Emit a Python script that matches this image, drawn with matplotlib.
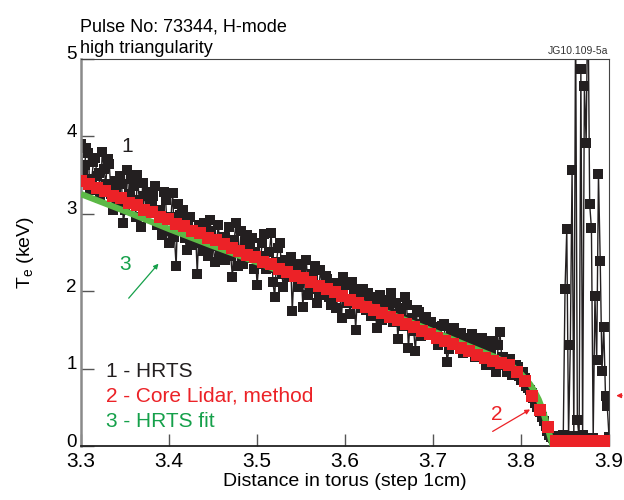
import numpy as np
import matplotlib
matplotlib.use("Agg")
import matplotlib.pyplot as plt
import matplotlib.transforms as mtransforms

plt.rcParams['font.family'] = ['Liberation Sans', 'DejaVu Sans']
plt.rcParams['mathtext.fontset'] = 'custom'
plt.rcParams['mathtext.rm'] = 'Liberation Sans'

# HRTS points, core part: two interleaved 4 mm grids, and edge part (2 mm grid)
hrts_core_x = np.linspace(3.300, 3.836, 135)
hrts_core_te = [
    3.90, 3.62, 3.78, 3.45, 3.72, 3.52, 3.80, 3.38, 3.64, 3.05,
    3.30, 3.48, 2.88, 3.56, 3.15, 3.36, 3.50, 2.82, 3.22, 3.28,
    3.10, 3.35, 2.92, 2.72, 3.18, 2.62, 3.26, 2.32, 2.98, 3.05,
    2.53, 2.95, 2.70, 2.22, 2.62, 2.88, 2.45, 2.78, 2.38, 2.85,
    2.58, 2.40, 2.82, 2.18, 2.88, 2.50, 2.35, 2.72, 2.55, 2.28,
    2.08, 2.45, 2.74, 2.30, 2.75, 1.92, 2.55, 2.22, 2.40, 2.18,
    1.74, 2.35, 2.10, 1.80, 2.40, 2.02, 2.18, 1.84, 2.27, 1.95,
    2.15, 1.82, 2.05, 1.95, 1.65, 2.08, 1.88, 2.12, 1.50, 1.96,
    2.02, 1.75, 1.92, 1.85, 1.52, 1.95, 1.80, 1.88, 1.97, 1.70,
    1.38, 1.72, 1.92, 1.26, 1.65, 1.22, 1.73, 1.58, 1.66, 1.50,
    1.54, 1.45, 1.35, 1.58, 1.08, 1.42, 1.52, 1.30, 1.46, 1.37,
    1.32, 1.45, 1.15, 1.28, 1.40, 1.05, 1.22, 1.35, 0.95, 1.47,
    1.15, 0.95, 1.12, 1.00, 1.02, 0.85, 0.88, 0.75, 0.68, 0.55,
    0.48, 0.38, 0.26, 0.14, 0.10,
]
hrts_core2_x = np.linspace(3.302, 3.834, 134)
hrts_core2_te = [
    3.55, 3.85, 3.30, 3.66, 3.48, 3.20, 3.58, 3.70, 3.25, 3.42,
    3.12, 3.38, 3.05, 3.25, 3.45, 2.95, 3.18, 3.40, 3.02, 3.12,
    3.22, 2.85, 3.05, 3.28, 2.78, 2.95, 2.70, 3.12, 2.85, 2.68,
    2.90, 2.60, 2.78, 2.85, 2.52, 2.70, 2.92, 2.58, 2.66, 2.48,
    2.70, 2.62, 2.45, 2.66, 2.32, 2.78, 2.60, 2.42, 2.68, 2.50,
    2.35, 2.62, 2.28, 2.50, 2.12, 2.38, 2.62, 2.05, 2.32, 2.44,
    2.25, 2.05, 2.30, 2.15, 1.95, 2.22, 2.32, 1.98, 2.08, 2.20,
    1.92, 2.10, 1.78, 2.00, 2.18, 1.85, 1.70, 2.02, 1.92, 1.78,
    1.90, 1.98, 1.68, 1.82, 1.92, 1.62, 1.88, 1.76, 1.60, 1.85,
    1.78, 1.55, 1.82, 1.62, 1.48, 1.75, 1.42, 1.65, 1.52, 1.60,
    1.48, 1.30, 1.55, 1.40, 1.25, 1.50, 1.35, 1.42, 1.20, 1.40,
    1.25, 1.38, 1.18, 1.30, 1.12, 1.36, 1.20, 1.08, 1.30, 1.15,
    1.05, 1.10, 0.92, 1.05, 0.90, 0.95, 0.78, 0.72, 0.62, 0.50,
    0.44, 0.32, 0.20, 0.12,
]
hrts_edge_x = np.linspace(3.838, 3.900, 32)
hrts_edge_te = [
    0.10, 0.13, 0.09, 0.12, 0.10, 0.14, 2.03, 2.80, 0.11, 1.30,
    3.56, 0.13, 5.60, 0.34, 0.10, 4.87, 0.14, 4.65, 3.91, 6.00,
    3.12, 2.81, 0.10, 1.93, 1.11, 3.51, 2.39, 0.97, 1.54, 0.64,
    0.51, 0.12,
]

# Core Lidar profile
lidar_x = np.linspace(3.300, 3.894, 67)
lidar_te = [
    3.42, 3.38, 3.33, 3.29, 3.23, 3.20, 3.14, 3.11, 3.05, 3.02,
    2.96, 2.93, 2.87, 2.84, 2.78, 2.75, 2.69, 2.66, 2.61, 2.56,
    2.52, 2.47, 2.44, 2.38, 2.35, 2.29, 2.25, 2.20, 2.17, 2.11,
    2.07, 2.02, 1.99, 1.93, 1.89, 1.84, 1.80, 1.75, 1.71, 1.66,
    1.62, 1.57, 1.53, 1.49, 1.44, 1.40, 1.35, 1.31, 1.26, 1.22,
    1.17, 1.13, 1.10, 1.07, 1.04, 0.96, 0.84, 0.64, 0.46, 0.25,
    0.07, 0.07, 0.07, 0.07, 0.07, 0.07, 0.07,
]

# HRTS fit
fit_x = [3.30, 3.35, 3.40, 3.45, 3.50, 3.55, 3.60, 3.65, 3.70, 3.74,
         3.77, 3.79, 3.80, 3.81, 3.815, 3.82, 3.825, 3.83, 3.836]
fit_te = [3.25, 3.03, 2.80, 2.58, 2.37, 2.15, 1.93, 1.71, 1.48, 1.29,
          1.15, 1.03, 0.93, 0.80, 0.71, 0.60, 0.45, 0.25, 0.0]

black = '#231f20'
red = '#ec2227'
green = '#5cb946'
green_txt = '#15a04a'

fig = plt.figure(figsize=(6.24, 5), dpi=100)
ax = fig.add_axes([0.130, 0.108, 0.846, 0.775])

hrts_x = np.concatenate([hrts_core_x, hrts_core2_x, hrts_edge_x])
hrts_te = np.array(hrts_core_te + hrts_core2_te + hrts_edge_te)
order = np.argsort(hrts_x, kind='stable')
ax.plot(hrts_x[order], hrts_te[order], '-s', color=black, ms=7, mew=0,
        lw=1.0, zorder=2)
ax.plot(fit_x, fit_te, color=green, lw=4.5, zorder=3, solid_capstyle='butt')
ax.plot(lidar_x, lidar_te, 's', color=red, ms=8.5, mew=0, ls='none', zorder=4)

ax.set_xlim(3.3, 3.9)
ax.set_ylim(0, 5)
ax.set_xticks(np.arange(3.3, 3.91, 0.1))
ax.set_xticklabels(['3.3', '3.4', '3.5', '3.6', '3.7', '3.8', '3.9'])
ax.set_yticks([0, 1, 2, 3, 4, 5])
ax.tick_params(direction='in', length=9, width=1, color='#555555')
ax.tick_params(axis='x', labelsize=15, pad=4)
ax.tick_params(axis='y', labelsize=13.5, pad=3)
shift = mtransforms.ScaledTranslation(0, 4 / 72, fig.dpi_scale_trans)
for lab in ax.get_yticklabels():
    lab.set_transform(lab.get_transform() + shift)

for side in ['top', 'right']:
    ax.spines[side].set_linewidth(0.8)
    ax.spines[side].set_color('#444444')
ax.spines['left'].set_linewidth(1.8)
ax.spines['left'].set_color('#8a8a8a')
ax.spines['bottom'].set_linewidth(1.3)
ax.spines['bottom'].set_color('#222222')

ax.set_xlabel('Distance in torus (step 1cm)', fontsize=14, labelpad=2)
ax.set_ylabel(r'T$_\mathrm{e}$ (keV)', fontsize=14, labelpad=22)

fig.text(0.128, 0.886, 'Pulse No: 73344, H-mode\nhigh triangularity',
         fontsize=13, ha='left', va='bottom', linespacing=1.35)
ax.text(3.899, 5.03, 'JG10.109-5a', fontsize=7.5, ha='right', va='bottom',
        color='#333333')

# series labels
ax.text(3.328, 0.96, '1 - HRTS', fontsize=15, color=black, va='center')
ax.text(3.328, 0.64, '2 - Core Lidar, method', fontsize=15, color=red, va='center')
ax.text(3.328, 0.31, '3 - HRTS fit', fontsize=15, color=green_txt, va='center')

ax.text(3.352, 3.86, '1', fontsize=15, color=black, ha='center', va='center')
ax.text(3.350, 2.34, '3', fontsize=15, color=green_txt, ha='center', va='center')
ax.annotate('', xy=(3.390, 2.38), xytext=(3.352, 1.88),
            arrowprops=dict(arrowstyle='-|>', color=green_txt, lw=0.9,
                            mutation_scale=7))
ax.text(3.772, 0.41, '2', fontsize=15, color=red, ha='center', va='center')
ax.annotate('', xy=(3.813, 0.49), xytext=(3.765, 0.17),
            arrowprops=dict(arrowstyle='-|>', color=red, lw=0.9,
                            mutation_scale=7))
ax.annotate('', xy=(3.905, 0.65), xytext=(3.918, 0.65),
            arrowprops=dict(arrowstyle='-|>', color=red, lw=0.9,
                            mutation_scale=7), annotation_clip=False)

fig.savefig('out.png', dpi=100)
